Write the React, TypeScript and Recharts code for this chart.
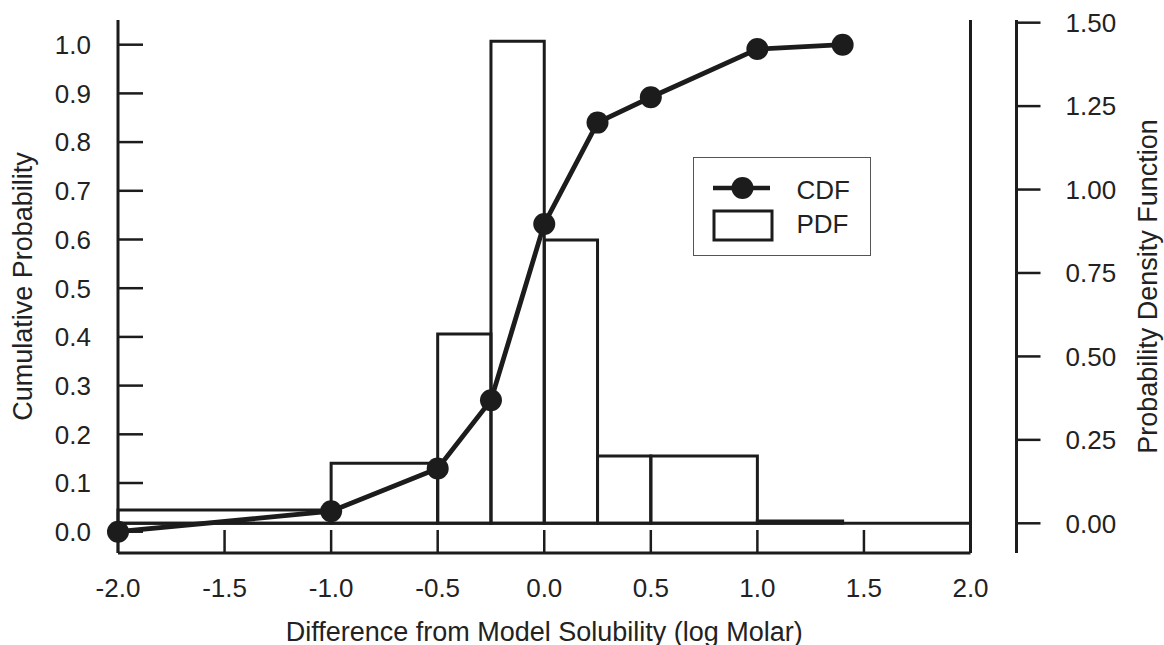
import React from 'react';
import {
  ComposedChart,
  Line,
  XAxis,
  YAxis,
  ReferenceArea,
  ReferenceLine,
  Legend,
} from 'recharts';

// ---- Data ----
const cdfX: number[] = [-2.0, -1.0, -0.5, -0.25, 0.0, 0.25, 0.5, 1.0, 1.4];
const cdfY: number[] = [0.0, 0.042, 0.13, 0.27, 0.632, 0.84, 0.892, 0.991, 1.0];

const pdfEdges: number[] = [-2.0, -1.0, -0.5, -0.25, 0.0, 0.25, 0.5, 1.0, 1.4];
const pdfDensity: number[] = [0.04, 0.18, 0.567, 1.444, 0.849, 0.202, 0.202, 0.007];

const xTicks: number[] = [-2.0, -1.5, -1.0, -0.5, 0.0, 0.5, 1.0, 1.5, 2.0];
const leftTicks: number[] = [0.0, 0.1, 0.2, 0.3, 0.4, 0.5, 0.6, 0.7, 0.8, 0.9, 1.0];
const rightTicks: number[] = [0.0, 0.25, 0.5, 0.75, 1.0, 1.25, 1.5];

const xTitle = 'Difference from Model Solubility (log Molar)';
const leftTitle = 'Cumulative Probability';
const rightTitle = 'Probability Density Function';
const legendLabels = ['CDF', 'PDF'];

const cdfData = cdfX.map((x, i) => ({ x, cdf: cdfY[i] }));
const pdfBins = pdfDensity.map((d, i) => ({ x1: pdfEdges[i], x2: pdfEdges[i + 1], d }));

// ---- Style ----
const INK = '#1c1c1c';
const TXT = '#222';
const FONT = '"Liberation Sans", Arial, Helvetica, sans-serif';
const TICK_FS = 26;
const TITLE_FS = 27;
const RIGHT_GAP = 46; // detached right axis offset from plot frame

const XTick = (props: any) => {
  const { x, y, payload } = props;
  return (
    <g>
      <line x1={x} x2={x} y1={y} y2={y - 23} stroke={INK} strokeWidth={2.5} />
      <text x={x} y={y + 44} textAnchor="middle" fontSize={TICK_FS} fontFamily={FONT} fill={TXT}>
        {Number(payload.value).toFixed(1)}
      </text>
    </g>
  );
};

const LeftTick = (props: any) => {
  const { x, y, payload } = props;
  return (
    <g>
      <line x1={x} x2={x + 25} y1={y} y2={y} stroke={INK} strokeWidth={2.5} />
      <text x={x - 27} y={y + 9.3} textAnchor="end" fontSize={TICK_FS} fontFamily={FONT} fill={TXT}>
        {Number(payload.value).toFixed(1)}
      </text>
    </g>
  );
};

const RightTick = (props: any) => {
  const { x, y, payload } = props;
  const ax = x + RIGHT_GAP;
  return (
    <g>
      <line x1={ax} x2={ax + 24} y1={y} y2={y} stroke={INK} strokeWidth={2.5} />
      <text x={ax + 49} y={y + 9.3} textAnchor="start" fontSize={TICK_FS} fontFamily={FONT} fill={TXT}>
        {Number(payload.value).toFixed(2)}
      </text>
    </g>
  );
};

const LegendBox = () => (
  <div
    style={{
      width: 178,
      height: 99,
      border: '1.5px solid #555',
      boxSizing: 'border-box',
      background: '#fff',
    }}
  >
    <svg width={175} height={96} style={{ display: 'block' }}>
      <line x1={19} x2={76} y1={30} y2={30} stroke={INK} strokeWidth={4.5} />
      <circle cx={48.5} cy={30} r={11} fill={INK} />
      <text x={102.5} y={40.5} fontSize={26} fontFamily={FONT} fill={TXT}>
        {legendLabels[0]}
      </text>
      <rect x={20} y={53} width={58} height={29} fill="none" stroke={INK} strokeWidth={3} />
      <text x={102.5} y={74.5} fontSize={26} fontFamily={FONT} fill={TXT}>
        {legendLabels[1]}
      </text>
    </svg>
  </div>
);

export default function App() {
  return (
    <div style={{ position: 'absolute', left: 0, top: 0, width: 1164, height: 645, background: '#fff' }}>
      <ComposedChart
        width={1164}
        height={645}
        data={cdfData}
        margin={{ top: 20, right: 47.5, bottom: 32, left: 0 }}
      >
        <XAxis
          xAxisId="x"
          dataKey="x"
          type="number"
          domain={[-2, 2]}
          ticks={xTicks}
          interval={0}
          height={60}
          tickSize={0}
          tickMargin={0}
          tickLine={false}
          axisLine={{ stroke: INK, strokeWidth: 3 }}
          tick={<XTick />}
          label={(p: any) => {
            const vb = p.viewBox || {};
            return (
              <text
                x={vb.x + vb.width / 2}
                y={vb.y + 88}
                textAnchor="middle"
                fontSize={TITLE_FS}
                fontFamily={FONT}
                fill={TXT}
              >
                {xTitle}
              </text>
            );
          }}
        />
        <XAxis
          xAxisId="top"
          orientation="top"
          type="number"
          domain={[-2, 2]}
          allowDataOverflow
          height={0}
          tick={false}
          tickLine={false}
          axisLine={{ stroke: INK, strokeWidth: 3 }}
        />
        <YAxis
          yAxisId="cdf"
          type="number"
          domain={[-0.0437, 1.0507]}
          ticks={leftTicks}
          interval={0}
          width={118}
          tickSize={0}
          tickMargin={0}
          tickLine={false}
          axisLine={{ stroke: INK, strokeWidth: 3 }}
          tick={<LeftTick />}
          label={(p: any) => {
            const vb = p.viewBox || {};
            const cy = vb.y + vb.height / 2;
            return (
              <text
                transform={`translate(32, ${cy}) rotate(-90)`}
                textAnchor="middle"
                fontSize={TITLE_FS}
                fontFamily={FONT}
                fill={TXT}
              >
                {leftTitle}
              </text>
            );
          }}
        />
        <YAxis
          yAxisId="pdf"
          orientation="right"
          type="number"
          domain={[-0.089, 1.508]}
          allowDataOverflow
          ticks={rightTicks}
          interval={0}
          width={146}
          tickSize={0}
          tickMargin={0}
          tickLine={false}
          axisLine={{ stroke: INK, strokeWidth: 3 }}
          tick={<RightTick />}
          label={(p: any) => {
            const vb = p.viewBox || {};
            const cy = vb.y + vb.height / 2;
            const ax = vb.x + RIGHT_GAP;
            return (
              <g>
                <line x1={ax} x2={ax} y1={vb.y} y2={vb.y + vb.height} stroke={INK} strokeWidth={3} />
                <text
                  transform={`translate(${ax + 140.5}, ${cy}) rotate(-90)`}
                  textAnchor="middle"
                  fontSize={TITLE_FS}
                  fontFamily={FONT}
                  fill={TXT}
                >
                  {rightTitle}
                </text>
              </g>
            );
          }}
        />
        {pdfBins.map((b, i) => (
          <ReferenceArea
            key={i}
            xAxisId="x"
            yAxisId="pdf"
            x1={b.x1}
            x2={b.x2}
            y1={0}
            y2={b.d}
            fill="none"
            fillOpacity={0}
            stroke={INK}
            strokeWidth={3}
            strokeOpacity={1}
          />
        ))}
        <ReferenceLine xAxisId="x" yAxisId="pdf" y={0} stroke={INK} strokeWidth={3} />
        <Line
          xAxisId="x"
          yAxisId="cdf"
          dataKey="cdf"
          type="linear"
          stroke={INK}
          strokeWidth={4.8}
          dot={{ r: 11, fill: INK, stroke: INK, strokeWidth: 0 }}
          activeDot={false}
          isAnimationActive={false}
        />
        <Legend
          layout="horizontal"
          verticalAlign="middle"
          align="center"
          wrapperStyle={{ position: 'absolute', left: 693, top: 157, width: 178, height: 99 }}
          content={() => <LegendBox />}
        />
      </ComposedChart>
    </div>
  );
}
